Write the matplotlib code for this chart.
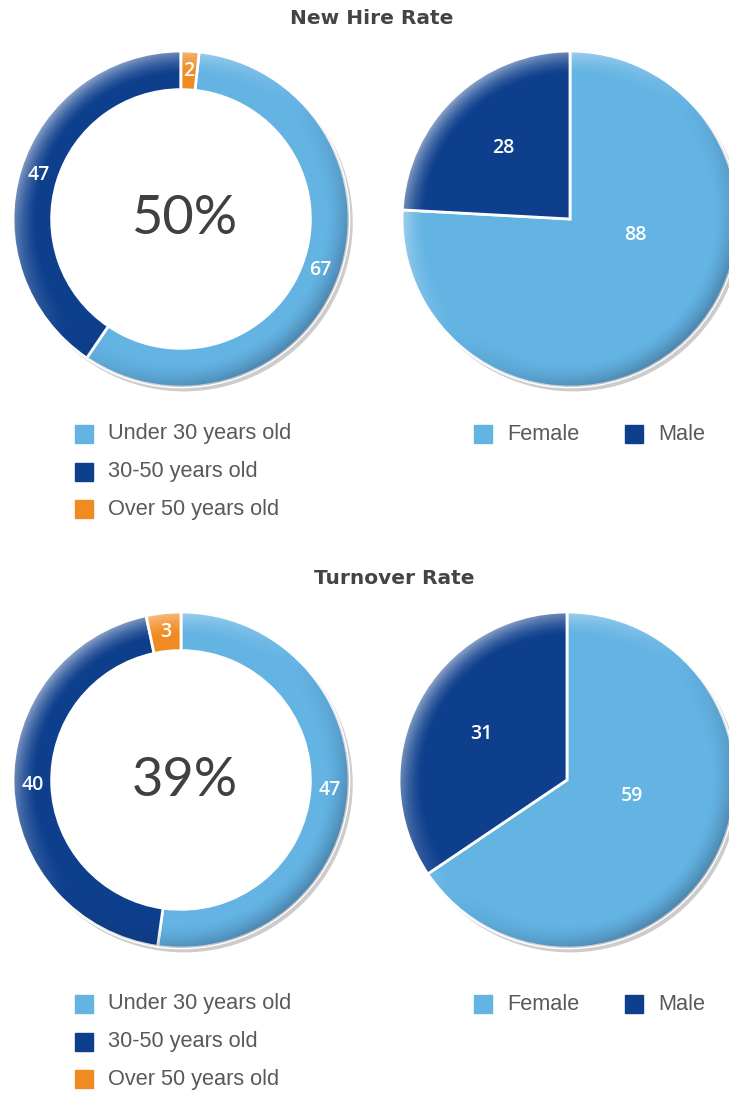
import numpy as np
import matplotlib
matplotlib.use('Agg')
import matplotlib.pyplot as plt
from matplotlib.patches import Circle, Rectangle

# data
age_labels = ['Under 30 years old', '30-50 years old', 'Over 50 years old']
gender_labels = ['Female', 'Male']

hire_age = [67, 47, 2]
hire_gender = [88, 28]
hire_rate = '50%'

turnover_age = [47, 40, 3]
turnover_gender = [59, 31]
turnover_rate = '39%'

age_colors = ['#63B3E3', '#0E3F8D', '#F08B22']
gender_colors = ['#63B3E3', '#0E3F8D']

W, H = 729, 1094
fig = plt.figure(figsize=(W / 100, H / 100), dpi=100)

TITLE_FONT = dict(family=['DejaVu Sans'], fontweight='bold', fontsize=14.5, color='#444444')
LABEL_FONT = dict(family=['Open Sans', 'DejaVu Sans'], fontweight='semibold', fontsize=14, color='white')
LEGEND_FONT = dict(family=['Liberation Sans', 'DejaVu Sans'], fontsize=15.7, color='#595959')


def round_axes(cx, cy, r):
  ax = fig.add_axes([(cx - r) / W, 1 - (cy + r) / H, 2 * r / W, 2 * r / H])
  ax.axis('off')
  return ax


def bevel_image(n=300):
  g = np.linspace(-1, 1, n)
  x, y = np.meshgrid(g, g)
  rr = np.hypot(x, y)
  ang = np.arctan2(y, x)
  t = np.clip((rr - 0.86) / 0.14, 0, 1) ** 1.5
  d = np.cos(ang - np.deg2rad(135))
  rgba = np.zeros((n, n, 4))
  light = d > 0
  rgba[light, :3] = 1.0
  rgba[~light, :3] = [0.1, 0.15, 0.25]
  rgba[..., 3] = np.where(light, t * d * 0.55, t * (-d) * 0.35)
  return rgba


BEVEL = bevel_image()


def draw_round(ax, values, colors, width=None, startangle=90):
  ax.add_patch(Circle((0.018, -0.022), 1.0, color='#cccccc', zorder=0, clip_on=False))
  wp = dict(edgecolor='white', linewidth=2)
  if width is not None:
    wp['width'] = width
    ax.add_patch(Circle((0, 0), 1 - width, color='white', zorder=0.5))
  wedges, _ = ax.pie(values, colors=colors, startangle=startangle, counterclock=False,
                     radius=1, wedgeprops=wp)
  for w in wedges:
    w.set_zorder(1)
    w.set_clip_on(False)
    im = ax.imshow(BEVEL, extent=(-1, 1, -1, 1), origin='lower', zorder=1.5,
                   interpolation='bilinear')
    im.set_clip_path(w)
  ax.set_xlim(-1, 1)
  ax.set_ylim(-1, 1)
  return wedges


def donut(cx, cy, r, values, rate, startangle):
  ax = round_axes(cx, cy, r)
  wedges = draw_round(ax, values, age_colors, width=0.23, startangle=startangle)
  for w, v in zip(wedges, values):
    mid = np.deg2rad((w.theta1 + w.theta2) / 2)
    ax.text(0.885 * np.cos(mid), 0.885 * np.sin(mid), str(v), ha='center', va='center',
            zorder=3, **LABEL_FONT)
  ax.text(0.02, 0.0, rate, ha='center', va='center', zorder=3,
          family=['Lato', 'DejaVu Sans'], fontsize=39, color='#404040')


def pie(cx, cy, r, values, big_dist):
  ax = round_axes(cx, cy, r)
  wedges = draw_round(ax, values, gender_colors)
  for w, v in zip(wedges, values):
    if w.theta2 - w.theta1 > 180:
      a, dist = np.deg2rad(-14), big_dist
    else:
      a, dist = np.deg2rad((w.theta1 + w.theta2) / 2), 0.58
    ax.text(dist * np.cos(a), dist * np.sin(a), str(v), ha='center', va='center',
            zorder=3, **LABEL_FONT)


def legend_item(x, y, color, label):
  fig.patches.append(Rectangle((x / W, 1 - (y + 9) / H), 18 / W, 18 / H, color=color,
                               transform=fig.transFigure, figure=fig))
  fig.text((x + 33) / W, 1 - y / H, label, ha='left', va='center', **LEGEND_FONT)


def section(top, title, title_x, cy, pie_x, ly, age, gender, rate, start):
  fig.text(title_x / W, 1 - top / H, title, ha='center', va='center', **TITLE_FONT)
  donut(181, cy, 168, age, rate, start)
  pie(pie_x, cy, 168, gender, 0.4)
  for i, (lab, col) in enumerate(zip(age_labels, age_colors)):
    legend_item(75, ly + i * 37.5, col, lab)
  for lab, col, x in zip(gender_labels, gender_colors, [474, 625]):
    legend_item(x, ly, col, lab)


section(18, 'New Hire Rate', 372, 219, 570, 434, hire_age, hire_gender, hire_rate,
        90 - 360 * hire_age[2] / sum(hire_age))
section(578, 'Turnover Rate', 394, 780, 567, 1004, turnover_age, turnover_gender,
        turnover_rate, 90)

fig.savefig('out.png', dpi=100)
